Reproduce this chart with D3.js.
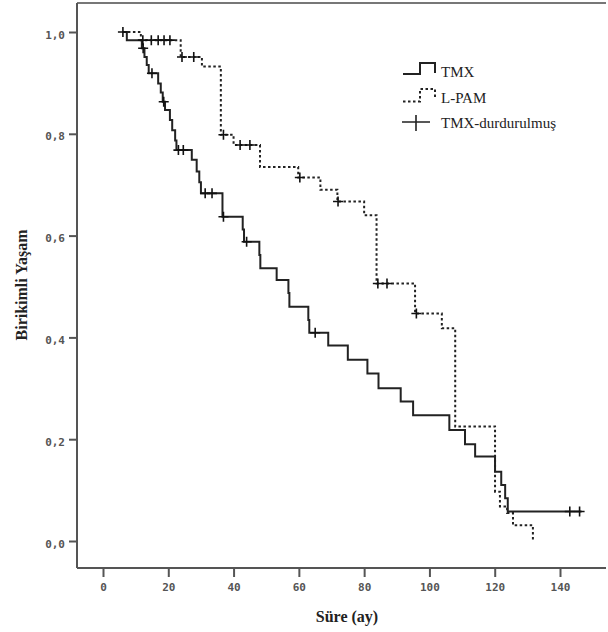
<!DOCTYPE html>
<html>
<head>
<meta charset="utf-8">
<script src="https://cdn.jsdelivr.net/npm/d3@7/dist/d3.min.js"></script>
<style>
html,body{margin:0;padding:0;background:#fff;}
svg{display:block;}
</style>
</head>
<body>
<svg id="chart" width="608" height="632"></svg>
<script>
// ---- Data ----
const xTicks = [0, 20, 40, 60, 80, 100, 120, 140];
const yTicks = [0.0, 0.2, 0.4, 0.6, 0.8, 1.0];

// TMX: start time, end time, event times and survival after each event
const tmxStart = 6.1;
const tmxEnd = 146.6;
const tmxTimes = [7.3, 11.9, 12.7, 13.4, 14.0, 16.9, 17.7, 18.3, 19.0, 20.5, 21.2, 22.1, 22.5, 27.2, 28.7, 29.5, 30.0, 36.6, 42.8, 43.2, 47.9, 48.2, 53.2, 56.8, 57.1, 62.9, 63.2, 69.0, 75.0, 81.0, 84.4, 91.2, 95.0, 106.1, 110.9, 114.0, 120.1, 122.0, 123.2, 124.0];
const tmxSurv  = [0.984, 0.968, 0.951, 0.935, 0.919, 0.899, 0.881, 0.863, 0.847, 0.827, 0.807, 0.787, 0.768, 0.749, 0.726, 0.705, 0.683, 0.637, 0.612, 0.588, 0.562, 0.536, 0.513, 0.487, 0.460, 0.434, 0.409, 0.384, 0.356, 0.329, 0.300, 0.274, 0.247, 0.218, 0.190, 0.166, 0.136, 0.110, 0.084, 0.058];
const tmxCensor = [12.3, 15.0, 18.6, 23.1, 24.6, 31.3, 33.4, 36.9, 44.0, 65.0, 143.0, 146.0];

// L-PAM
const lpamStart = 6.1;
const lpamTimes = [11.6, 23.8, 30.3, 36.1, 40.0, 48.1, 59.8, 66.6, 71.8, 80.0, 83.8, 95.6, 103.8, 107.9, 120.1, 121.6, 123.8, 125.6, 131.7];
const lpamSurv  = [0.984, 0.951, 0.932, 0.798, 0.778, 0.735, 0.714, 0.690, 0.667, 0.640, 0.506, 0.447, 0.418, 0.225, 0.097, 0.068, 0.055, 0.031, 0.0];
const lpamCensor = [6.1, 12.2, 14.8, 16.9, 18.7, 20.5, 24.2, 27.8, 36.9, 42.0, 45.0, 60.3, 72.0, 84.2, 87.0, 96.0];

const seriesNames = ["TMX", "L-PAM", "TMX-durdurulmuş"];
const yLabel = "Birikimli Yaşam";
const xLabel = "Süre (ay)";

// ---- Drawing ----
const svg = d3.select("#chart");
const x = d3.scaleLinear().domain([0, 140]).range([103, 560]);
const y = d3.scaleLinear().domain([0, 1]).range([541, 32]);

const frame = {left: 77, top: 3, right: 606, bottom: 568};

function stepPoints(start, times, surv, end) {
  const pts = [[start, 1]];
  times.forEach((t, i) => pts.push([t, surv[i]]));
  if (end !== undefined) pts.push([end, surv[surv.length - 1]]);
  return pts;
}
function survAt(t, start, times, surv) {
  let v = 1;
  times.forEach((tt, i) => { if (tt <= t) v = surv[i]; });
  return v;
}

const line = d3.line().x(d => x(d[0])).y(d => y(d[1])).curve(d3.curveStepAfter);

// frame lines
svg.append("line").attr("x1", frame.left).attr("x2", frame.right).attr("y1", frame.top).attr("y2", frame.top)
  .attr("stroke", "#777").attr("stroke-width", 2);
svg.append("line").attr("x1", frame.left).attr("x2", frame.left).attr("y1", frame.top).attr("y2", frame.bottom)
  .attr("stroke", "#555").attr("stroke-width", 2);

// Axes
const xAxis = d3.axisBottom(x).tickValues(xTicks).tickSize(9).tickPadding(6).tickFormat(d3.format("d"));
const gx = svg.append("g").attr("transform", `translate(0,${frame.bottom})`).call(xAxis);
gx.select(".domain").attr("d", `M${frame.left},0H${frame.right}`).attr("stroke", "#555").attr("stroke-width", 2);
gx.selectAll(".tick line").attr("stroke", "#555").attr("stroke-width", 2);
gx.selectAll(".tick text").attr("fill", "#555").style("font-family", "'DejaVu Sans Mono', monospace")
  .style("font-size", "11px").style("font-weight", "bold");

const yAxis = d3.axisLeft(y).tickValues(yTicks).tickSize(8).tickPadding(4)
  .tickFormat(d => d3.format(".1f")(d).replace(".", ","));
const gy = svg.append("g").attr("transform", `translate(${frame.left},0)`).call(yAxis);
gy.select(".domain").remove();
gy.selectAll(".tick line").attr("stroke", "#555").attr("stroke-width", 2);
gy.selectAll(".tick text").attr("fill", "#555").attr("dy", "0.55em").style("font-family", "'DejaVu Sans Mono', monospace")
  .style("font-size", "11px").style("font-weight", "bold");

// Curves
svg.append("path").datum(stepPoints(lpamStart, lpamTimes, lpamSurv))
  .attr("d", line).attr("fill", "none").attr("stroke", "#222").attr("stroke-width", 2)
  .attr("stroke-dasharray", "2.5,2.5");
svg.append("path").datum(stepPoints(tmxStart, tmxTimes, tmxSurv, tmxEnd))
  .attr("d", line).attr("fill", "none").attr("stroke", "#222").attr("stroke-width", 2);

function drawCensor(list, start, times, surv) {
  svg.append("g").selectAll("path").data(list).join("path")
    .attr("d", d => {
      const cx = x(d), cy = y(survAt(d, start, times, surv));
      return `M${cx - 5},${cy}H${cx + 5}M${cx},${cy - 5}V${cy + 5}`;
    })
    .attr("stroke", "#111").attr("stroke-width", 1.6).attr("fill", "none");
}
drawCensor(tmxCensor, tmxStart, tmxTimes, tmxSurv);
drawCensor(lpamCensor, lpamStart, lpamTimes, lpamSurv);

// Legend
const lg = svg.append("g");
lg.append("path").attr("d", "M403,74H420V63H435V73").attr("fill", "none").attr("stroke", "#222").attr("stroke-width", 2);
lg.append("path").attr("d", "M403,101.5H420V89H435V99").attr("fill", "none").attr("stroke", "#222").attr("stroke-width", 2)
  .attr("stroke-dasharray", "2.5,2.5");
lg.append("path").attr("d", "M402,122H430M416,115V131").attr("fill", "none").attr("stroke", "#222").attr("stroke-width", 1.6);
const lgY = [77, 103, 128];
seriesNames.forEach((n, i) => {
  lg.append("text").attr("x", 441).attr("y", lgY[i]).text(n)
    .style("font-family", "'Liberation Serif', 'Times New Roman', serif").style("font-size", "15px").attr("fill", "#222");
});

// Axis titles
svg.append("text").attr("transform", "translate(27,285) rotate(-90)").attr("text-anchor", "middle")
  .style("font-family", "'Liberation Serif', 'Times New Roman', serif").style("font-size", "16px")
  .style("font-weight", "bold").attr("fill", "#222").text(yLabel);
svg.append("text").attr("x", 347).attr("y", 622).attr("text-anchor", "middle")
  .style("font-family", "'Liberation Serif', 'Times New Roman', serif").style("font-size", "16px")
  .style("font-weight", "bold").attr("fill", "#222").text(xLabel);
</script>
</body>
</html>
